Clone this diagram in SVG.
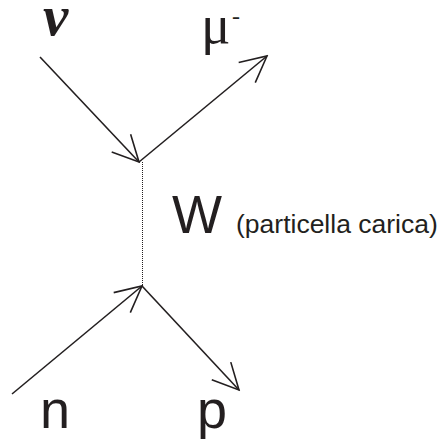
<svg xmlns="http://www.w3.org/2000/svg" width="442" height="442" viewBox="0 0 442 442">
<style>
.line{stroke:#231f20;stroke-width:1.6;fill:none}
.dot{stroke:#231f20;stroke-width:1;stroke-dasharray:1,1;fill:none}
.sans{font-family:"Liberation Sans",Arial,sans-serif;fill:#231f20}
.serif{font-family:"Liberation Serif","Times New Roman",serif;fill:#231f20}
</style>
<defs>
<marker id="arr" viewBox="-30 -16 32 32" refX="0" refY="0" markerWidth="32" markerHeight="32" markerUnits="userSpaceOnUse" orient="auto">
<path d="M-26,-13 L0,0 L-26,13" stroke="#231f20" stroke-width="1.6" fill="none"/>
</marker>
</defs>
<rect width="442" height="442" fill="#fff"/>
<g id="connectors">
<line class="line" x1="40" y1="57" x2="139" y2="162" marker-end="url(#arr)"/>
<line class="line" x1="139" y1="162" x2="267" y2="56" marker-end="url(#arr)"/>
<line class="dot" x1="142.5" y1="162" x2="142.5" y2="286"/>
<line class="line" x1="12" y1="394" x2="142" y2="286" marker-end="url(#arr)"/>
<line class="line" x1="142" y1="286" x2="239" y2="390" marker-end="url(#arr)"/>
</g>
<g id="nu"><text class="serif" x="43" y="35" font-size="57" font-style="italic" font-weight="bold">ν</text></g>
<g id="mu"><text class="serif" x="201" y="43" font-size="55">μ</text><text class="serif" x="232" y="24" font-size="24">-</text></g>
<g id="W"><text class="sans" x="172" y="233" font-size="53">W</text><text class="sans" x="236" y="233" font-size="26.5">(particella carica)</text></g>
<g id="n"><text class="sans" x="40" y="428" font-size="54">n</text></g>
<g id="p"><text class="sans" x="197" y="428" font-size="54">p</text></g>
</svg>
